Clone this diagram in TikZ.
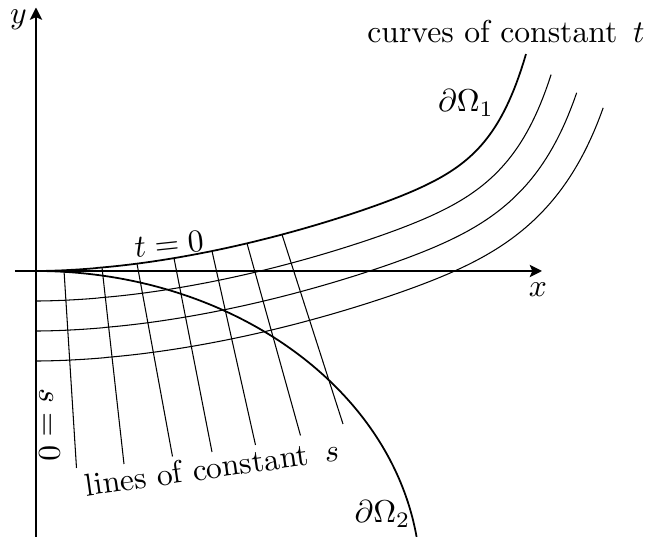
\documentclass[tikz,border=0pt]{standalone}
\usetikzlibrary{arrows.meta}

\begin{document}
\begin{tikzpicture}[
      axis/.style={line width=0.9pt,-{Stealth[length=7pt,width=7pt,inset=1.5pt]}},
      bnd/.style={line width=1pt},
      gridln/.style={line width=0.6pt},
      lbl/.style={scale=1.8,transform shape},
      declare function={
        wall(\x)=2.52*(\x/9.8)^1.8+1.82*(\x/9.8)^16;
        wslope(\x)=(4.536*(\x/9.8)^0.8+29.12*(\x/9.8)^15)/9.8;
      },
    ]
    \useasboundingbox (-0.72,-5.32) rectangle (12.26,5.42);

    \coordinate (o)  at (0,0);
    \coordinate (xa) at (-0.42,0);
    \coordinate (xb) at (10.12,0);
    \coordinate (ya) at (0,-5.32);
    \coordinate (yb) at (0,5.27);

    % axes
    \draw[axis] (xa) -- (xb);
    \draw[axis] (ya) -- (yb);

    % boundaries
    \draw[bnd] (o) -- plot[domain=0.01:9.8,samples=200,variable=\x] (\x,{wall(\x)});
    \draw[bnd] (o) arc[start angle=90,end angle=8,x radius=7.69,y radius=6.2];

    % curves of constant t
    \foreach \dd/\ue in {0.6/9.73,1.2/9.68,1.8/9.65}
      \draw[gridln] plot[domain=0.01:\ue,samples=200,variable=\x]
        ({\x+\dd*wslope(\x)/sqrt(1+wslope(\x)^2)},{wall(\x)-\dd/sqrt(1+wslope(\x)^2)});

    % lines of constant s
    \foreach \sx/\ex/\ey in {0.56/0.81/-3.94,1.32/1.76/-3.86,2.02/2.73/-3.71,
                             2.76/3.52/-3.62,3.52/4.39/-3.48,4.22/5.29/-3.29,4.92/6.14/-3.06}
      \draw[gridln] (\sx,{wall(\sx)}) -- (\ex,\ey);

    \node[lbl] (ylab) at (-0.35,5.02) {$y$};
    \node[lbl] (xlab) at (10.04,-0.38) {$x$};
    \node[lbl,anchor=base] (tcurv) at (9.4,4.56) {curves of constant\ \,$t$};
    \node[lbl] (om1) at (8.6,3.36) {$\partial\Omega_1$};
    \node[lbl] (om2) at (6.93,-4.86) {$\partial\Omega_2$};
    \node[lbl,rotate=6] (tzero) at (2.66,0.54) {$t=0$};
    \node[lbl,rotate=-90] (szero) at (0.27,-3.08) {$s=0$};
    \node[lbl,rotate=8] (slines) at (3.52,-3.93) {lines of constant\ \,$s$};
  \end{tikzpicture}
\end{document}
